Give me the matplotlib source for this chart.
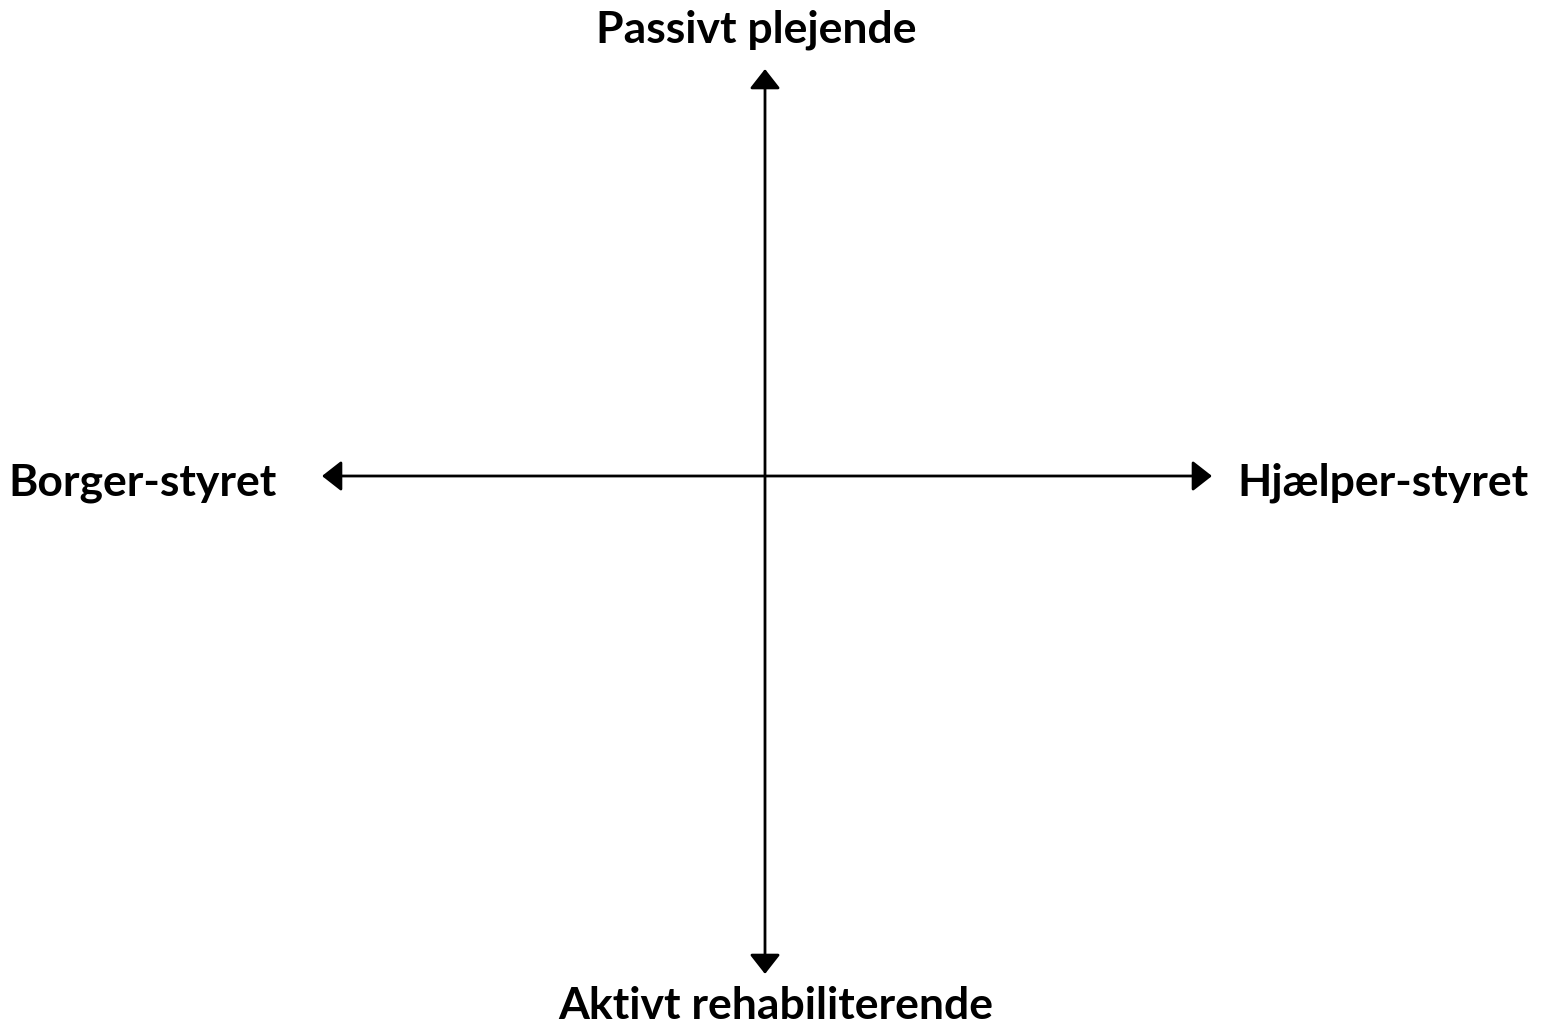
import matplotlib.pyplot as plt

# axis end labels: top, bottom, left, right
top_label = "Passivt plejende"
bottom_label = "Aktivt rehabiliterende"
left_label = "Borger-styret"
right_label = "Hjælper-styret"

W, H = 1541, 1028
fig = plt.figure(figsize=(W / 100, H / 100), dpi=100)
ax = fig.add_axes([0, 0, 1, 1])
ax.set_xlim(0, W)
ax.set_ylim(H, 0)
ax.axis('off')

cx, cy = 765, 476
arrow = dict(arrowstyle='<|-|>,head_length=0.6,head_width=0.47',
             mutation_scale=20, color='black', lw=2, shrinkA=0, shrinkB=0)
ax.annotate('', xy=(cx, 69), xytext=(cx, 974), arrowprops=arrow)
ax.annotate('', xy=(322, cy), xytext=(1212, cy), arrowprops=arrow)

font = dict(family=['Lato', 'DejaVu Sans'], fontsize=32, fontweight='bold')
ax.text(756, 30, top_label, ha='center', va='center', **font)
ax.text(776, 1006, bottom_label, ha='center', va='center', **font)
ax.text(143, 483, left_label, ha='center', va='center', **font)
ax.text(1383, 483, right_label, ha='center', va='center', **font)

fig.savefig('out.png', dpi=100)
